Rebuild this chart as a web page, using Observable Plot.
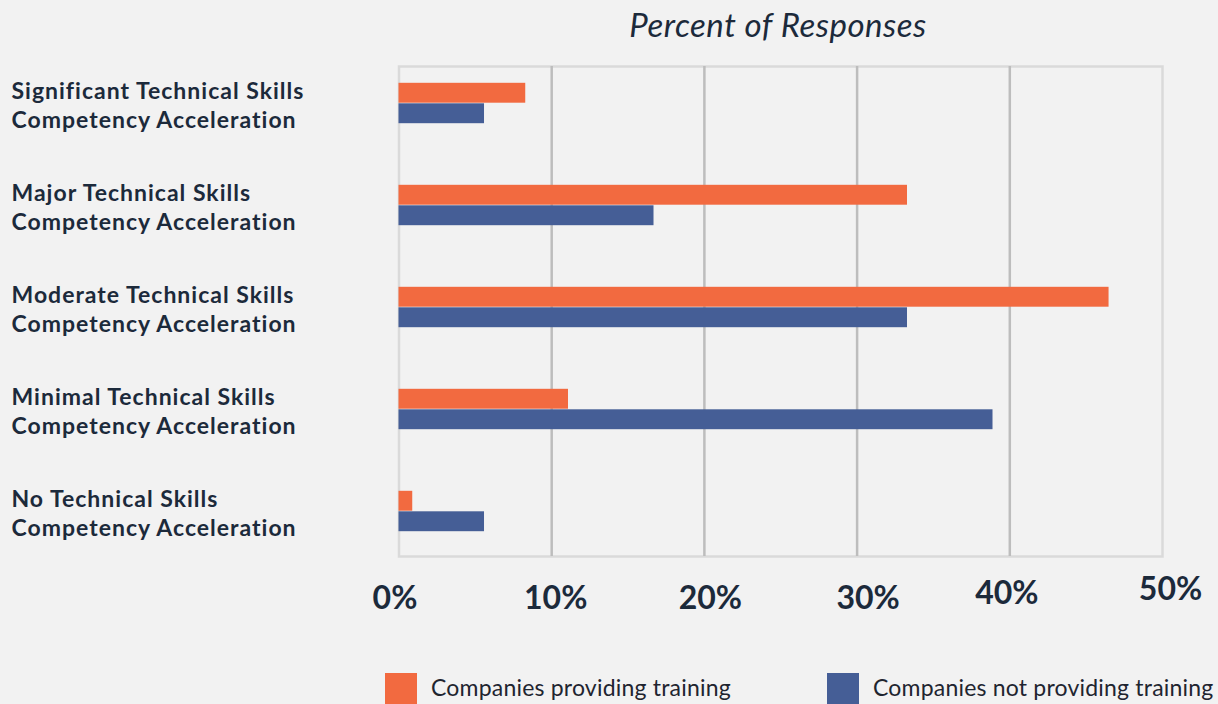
<!DOCTYPE html>
<html>
<head>
<meta charset="utf-8">
<script src="https://cdn.jsdelivr.net/npm/d3@7"></script>
<script src="https://cdn.jsdelivr.net/npm/@observablehq/plot@0.6"></script>
<style>
  html, body { margin: 0; padding: 0; background: #f2f2f2; width: 1218px; height: 704px; overflow: hidden; font-family: Lato, "Noto Sans", sans-serif; }
  #title { height: 56px; position: relative; }
  #title span { position: absolute; left: 778px; top: 4px; transform: translateX(-50%); font-style: italic; font-size: 33px; letter-spacing: 0.5px; color: #1c2a3b; white-space: nowrap; }
  #chart svg { display: block; }
  #chart .ylab text { letter-spacing: 1px; }
  #legend { position: relative; height: 44px; }
  .sw { position: absolute; top: 13px; width: 32px; height: 31px; }
  .lt { position: absolute; top: 12px; font-size: 23px; letter-spacing: 0.2px; color: #1f2530; white-space: nowrap; line-height: 31px; }
</style>
</head>
<body>
<div id="title"><span>Percent of Responses</span></div>
<div id="chart"></div>
<div id="legend"></div>
<script>
const categories = [
  "Significant Technical Skills Competency Acceleration",
  "Major Technical Skills Competency Acceleration",
  "Moderate Technical Skills Competency Acceleration",
  "Minimal Technical Skills Competency Acceleration",
  "No Technical Skills Competency Acceleration"
];
const categoryLabels = [
  "Significant Technical Skills\nCompetency Acceleration",
  "Major Technical Skills\nCompetency Acceleration",
  "Moderate Technical Skills\nCompetency Acceleration",
  "Minimal Technical Skills\nCompetency Acceleration",
  "No Technical Skills\nCompetency Acceleration"
];
const seriesNames = ["Companies providing training", "Companies not providing training"];
const providing = [8.3, 33.3, 46.5, 11.1, 0.9];
const notProviding = [5.6, 16.7, 33.3, 38.9, 5.6];
const xTicks = [0, 10, 20, 30, 40, 50];
const seriesColors = ["#f26a40", "#455e96"];

// per-tick label offsets (style only)
const tickDx = [-4, 4, 6, 11, -3, 8];
const tickDy = [30, 30, 30, 30, 25, 21];

const rowsA = categories.map((c, i) => ({category: c, series: seriesNames[0], value: providing[i]}));
const rowsB = categories.map((c, i) => ({category: c, series: seriesNames[1], value: notProviding[i]}));

const tickAxes = xTicks.map((t, i) => Plot.axisX([t], {
  tickSize: 0, tickPadding: 0, dx: tickDx[i], dy: tickDy[i], label: null,
  tickFormat: d => d + "%", fontSize: 32, fontWeight: 700, fill: "#1c2a3b", lineAnchor: "top"
}));

const chart = Plot.plot({
  width: 1218,
  height: 604,
  marginTop: 10,
  marginBottom: 104,
  marginLeft: 398.5,
  marginRight: 56,
  style: {background: "transparent", fontFamily: "Lato, 'Noto Sans', sans-serif", overflow: "visible"},
  x: {domain: [0, 50], axis: null},
  y: {domain: categories, range: [-6, 507], padding: 0, axis: null},
  color: {domain: seriesNames, range: seriesColors},
  marks: [
    Plot.frame({stroke: "#dadada", strokeWidth: 2.5}),
    Plot.ruleX(xTicks.slice(1, -1), {stroke: "#bdbdbd", strokeWidth: 2.5}),
    Plot.barX(rowsA, {x: "value", y: "category", fill: "series", insetTop: 30.8, insetBottom: 51.3}),
    Plot.barX(rowsB, {x: "value", y: "category", fill: "series", insetTop: 51.3, insetBottom: 30.8}),
    Plot.text(categories, {
      y: d => d, text: (d, i) => categoryLabels[i], frameAnchor: "left", textAnchor: "start",
      dx: -387.5, dy: 1, fontSize: 23, fontWeight: 700, lineHeight: 1.27, fill: "#1c2a3b",
      className: "ylab"
    }),
    ...tickAxes
  ]
});
document.getElementById("chart").appendChild(chart);

const legend = document.getElementById("legend");
const legendLeft = [385, 827];
seriesNames.forEach((s, i) => {
  const sw = document.createElement("div");
  sw.className = "sw"; sw.style.left = legendLeft[i] + "px"; sw.style.background = seriesColors[i];
  const t = document.createElement("div");
  t.className = "lt"; t.style.left = (legendLeft[i] + 46) + "px"; t.textContent = s;
  legend.appendChild(sw); legend.appendChild(t);
});
</script>
</body>
</html>
